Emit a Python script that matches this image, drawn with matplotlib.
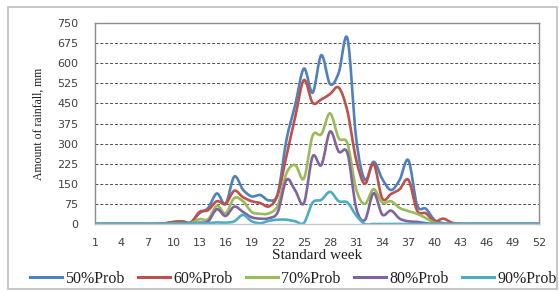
import numpy as np
import matplotlib
matplotlib.use("Agg")
import matplotlib.pyplot as plt
from matplotlib.path import Path
from matplotlib.patches import PathPatch, Rectangle
from matplotlib.lines import Line2D

# ===============================
# DATA
# ===============================
weeks = list(range(1, 53))

p50 = [0, 0, 0, 0, 0, 0, 0, 0, 2, 8, 10, 6, 40, 60, 114, 75, 177, 128, 103, 108, 88, 115,
       315, 445, 580, 490, 630, 522, 565, 692, 320, 165, 232, 168, 127, 165, 238, 70, 57, 15,
       3, 0, 0, 0, 0, 0, 0, 0, 0, 0, 0, 0]
p60 = [0, 0, 0, 0, 0, 0, 0, 0, 2, 7, 8, 5, 45, 52, 85, 75, 124, 100, 85, 78, 66, 110,
       255, 400, 537, 452, 465, 485, 509, 420, 240, 150, 225, 95, 112, 130, 165, 50, 40, 10,
       20, 5, 0, 0, 0, 0, 0, 0, 0, 0, 0, 0]
p70 = [0, 0, 0, 0, 0, 0, 0, 0, 0, 2, 3, 3, 18, 18, 68, 40, 97, 85, 45, 38, 40, 70,
       190, 220, 170, 330, 335, 413, 320, 300, 130, 75, 130, 80, 85, 60, 48, 38, 22, 5,
       0, 0, 0, 0, 0, 0, 0, 0, 0, 0, 0, 0]
p80 = [0, 0, 0, 0, 0, 0, 0, 0, 0, 0, 1, 2, 5, 10, 55, 30, 65, 45, 25, 20, 22, 45,
       165, 125, 78, 252, 220, 345, 270, 264, 60, 15, 115, 35, 50, 20, 10, 8, 3, 0,
       0, 0, 0, 0, 0, 0, 0, 0, 0, 0, 0, 0]
p90 = [0, 0, 0, 0, 0, 0, 0, 0, 0, 0, 0, 2, 3, 3, 6, 5, 10, 34, 10, 3, 12, 16,
       16, 10, 4, 80, 90, 120, 85, 80, 32, 0, 0, 0, 0, 0, 0, 0, 0, 0,
       0, 0, 0, 0, 0, 0, 0, 0, 0, 0, 0, 0]

series = [("50%Prob", p50), ("60%Prob", p60), ("70%Prob", p70),
          ("80%Prob", p80), ("90%Prob", p90)]
colors = ["#4F81BD", "#C0504D", "#9BBB59", "#8064A2", "#4BACC6"]

yticks = list(range(0, 751, 75))
xticks = list(range(1, 53, 3))


# Excel-style smoothed line: cubic Bezier through the points
def smooth_path(x, y):
    x = np.asarray(x, float)
    y = np.asarray(y, float)
    n = len(x)
    verts = [(x[0], y[0])]
    codes = [Path.MOVETO]
    for i in range(n - 1):
        i0 = max(i - 1, 0)
        i3 = min(i + 2, n - 1)
        c1 = (x[i] + (x[i + 1] - x[i0]) / 6, y[i] + (y[i + 1] - y[i0]) / 6)
        c2 = (x[i + 1] - (x[i3] - x[i]) / 6, y[i + 1] - (y[i3] - y[i]) / 6)
        verts += [c1, c2, (x[i + 1], y[i + 1])]
        codes += [Path.CURVE4] * 3
    return Path(verts, codes)


# ===============================
# FIGURE
# ===============================
fig = plt.figure(figsize=(5.59, 2.92), dpi=100)
fig.patch.set_facecolor("white")
fig.patches.append(Rectangle((8 / 559, 3 / 292), 549 / 559, 282 / 292,
                             transform=fig.transFigure, fill=False,
                             edgecolor="#BEBEBE", lw=1.2))

ax = fig.add_axes([95 / 559, 1 - 224 / 292, 444 / 559, 201 / 292])

for (name, vals), c in zip(series, colors):
    patch = PathPatch(smooth_path(weeks, vals), facecolor="none", edgecolor=c,
                      lw=1.9, capstyle="round", joinstyle="round")
    ax.add_patch(patch)

ax.set_xlim(1, 52)
ax.set_ylim(0, 750)
ax.set_xticks(xticks)
ax.set_yticks(yticks)
ax.tick_params(length=0, labelsize=8, labelcolor="#404040")
ax.tick_params(axis="x", pad=10)
ax.tick_params(axis="y", pad=12)

for v in yticks[1:-1]:
    ax.axhline(v, color="#505050", lw=0.7, ls=(0, (3, 2)), zorder=0)

for s in ax.spines.values():
    s.set_color("#8C8C8C")
    s.set_linewidth(1.0)
ax.spines["bottom"].set_color("#C8C8C8")

ax.set_xlabel("Standard week", family="Liberation Serif", fontsize=11,
              color="#202020", labelpad=1)
ax.set_ylabel("Amount of rainfall, mm", family="Liberation Serif", fontsize=8.5,
              color="#202020", labelpad=9)

handles = [Line2D([], [], color=c, lw=2.2) for c in colors]
fig.legend(handles, [s[0] for s in series], loc="center",
           bbox_to_anchor=(0.525, 1 - 279 / 292), ncol=5, frameon=False,
           prop={"family": "Liberation Serif", "size": 11.5},
           handlelength=2.0, handletextpad=0.2, columnspacing=0.85,
           labelcolor="#202020")

fig.savefig("out.png", dpi=100)
